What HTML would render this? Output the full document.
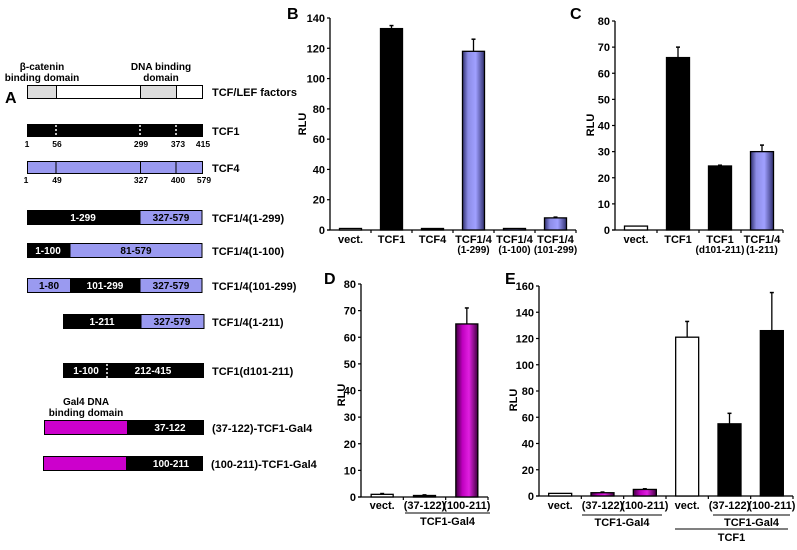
<!DOCTYPE html>
<html><head><meta charset="utf-8"><style>
html,body{margin:0;padding:0;background:#fff;}
svg text{font-family:"Liberation Sans",Arial,sans-serif;font-weight:bold;fill:#000;}
</style></head><body>
<svg id="fig" width="797" height="545" viewBox="0 0 797 545" xmlns="http://www.w3.org/2000/svg">
<defs>
<linearGradient id="gBlue" x1="0" x2="1"><stop offset="0" stop-color="#303070"/><stop offset="0.25" stop-color="#8c8ce6"/><stop offset="0.6" stop-color="#a0a0ff"/><stop offset="1" stop-color="#303070"/></linearGradient>
<linearGradient id="gMag" x1="0" x2="1"><stop offset="0" stop-color="#400040"/><stop offset="0.3" stop-color="#c000c0"/><stop offset="0.6" stop-color="#e020e0"/><stop offset="1" stop-color="#400040"/></linearGradient>
</defs>
<g font-size="10">
<text x="5" y="103" font-size="16">A</text>
<text x="42" y="70" text-anchor="middle">β-catenin</text>
<text x="42" y="81" text-anchor="middle">binding domain</text>
<text x="161" y="70" text-anchor="middle">DNA binding</text>
<text x="161" y="81" text-anchor="middle">domain</text>
<g stroke="#000" stroke-width="1">
<rect x="27.5" y="85.5" width="175" height="13" fill="#fff"/>
<rect x="27.5" y="85.5" width="29" height="13" fill="#ddd"/>
<rect x="140.5" y="85.5" width="36" height="13" fill="#ddd"/>
</g>
<text x="212" y="96" font-size="11">TCF/LEF factors</text>
<rect x="27" y="124" width="176" height="13" fill="#000"/>
<g stroke="#fff" stroke-width="1.5" stroke-dasharray="2,2"><line x1="56" y1="125" x2="56" y2="137"/><line x1="140" y1="125" x2="140" y2="137"/><line x1="176" y1="125" x2="176" y2="137"/></g>
<text x="212" y="135" font-size="11">TCF1</text>
<g font-size="8.5" text-anchor="middle"><text x="27" y="147">1</text><text x="57" y="147">56</text><text x="141" y="147">299</text><text x="178" y="147">373</text><text x="203" y="147">415</text></g>
<g stroke="#000"><rect x="27.5" y="161.5" width="175" height="12" fill="#9a9af0"/><line x1="56" y1="161" x2="56" y2="174"/><line x1="140.5" y1="161" x2="140.5" y2="174"/><line x1="176" y1="161" x2="176" y2="174"/></g>
<text x="212" y="172" font-size="11">TCF4</text>
<g font-size="8.5" text-anchor="middle"><text x="26" y="183">1</text><text x="57" y="183">49</text><text x="141" y="183">327</text><text x="178" y="183">400</text><text x="204" y="183">579</text></g>
<g><rect x="27" y="210" width="113" height="15" fill="#000"/><rect x="140" y="210.5" width="62" height="14" fill="#9a9af0" stroke="#000"/>
<text x="83" y="221" style="fill:#fff" text-anchor="middle">1-299</text><text x="171" y="221" text-anchor="middle">327-579</text></g>
<text x="212" y="222" font-size="11">TCF1/4(1-299)</text>
<g><rect x="27" y="243" width="43" height="15" fill="#000"/><rect x="70" y="243.5" width="132" height="14" fill="#9a9af0" stroke="#000"/>
<text x="48" y="254" style="fill:#fff" text-anchor="middle">1-100</text><text x="136" y="254" text-anchor="middle">81-579</text></g>
<text x="212" y="255" font-size="11">TCF1/4(1-100)</text>
<g><rect x="27.5" y="278.5" width="43" height="14" fill="#9a9af0" stroke="#000"/><rect x="70" y="278" width="70" height="15" fill="#000"/><rect x="140" y="278.5" width="62" height="14" fill="#9a9af0" stroke="#000"/>
<text x="49" y="289" text-anchor="middle">1-80</text><text x="105" y="289" style="fill:#fff" text-anchor="middle">101-299</text><text x="171" y="289" text-anchor="middle">327-579</text></g>
<text x="212" y="290" font-size="11">TCF1/4(101-299)</text>
<g><rect x="63" y="314" width="78" height="15" fill="#000"/><rect x="141" y="314.5" width="63" height="14" fill="#9a9af0" stroke="#000"/>
<text x="102" y="325" style="fill:#fff" text-anchor="middle">1-211</text><text x="172" y="325" text-anchor="middle">327-579</text></g>
<text x="212" y="326" font-size="11">TCF1/4(1-211)</text>
<g><rect x="63" y="363" width="141" height="15" fill="#000"/><line x1="107" y1="364" x2="107" y2="378" stroke="#fff" stroke-width="1.5" stroke-dasharray="2,2"/>
<text x="86" y="374" style="fill:#fff" text-anchor="middle">1-100</text><text x="153" y="374" style="fill:#fff" text-anchor="middle">212-415</text></g>
<text x="212" y="375" font-size="11">TCF1(d101-211)</text>
<text x="86" y="405" text-anchor="middle">Gal4 DNA</text><text x="86" y="416" text-anchor="middle">binding domain</text>
<g><rect x="44.5" y="420.5" width="83" height="14" fill="#cc00cc" stroke="#000"/><rect x="127" y="420" width="77" height="15" fill="#000"/><text x="170" y="431" style="fill:#fff" text-anchor="middle">37-122</text></g>
<text x="212" y="432" font-size="11">(37-122)-TCF1-Gal4</text>
<g><rect x="43.5" y="456.5" width="83" height="14" fill="#cc00cc" stroke="#000"/><rect x="126" y="456" width="77" height="15" fill="#000"/><text x="171" y="467" style="fill:#fff" text-anchor="middle">100-211</text></g>
<text x="211" y="468" font-size="11">(100-211)-TCF1-Gal4</text>
</g>
<text x="287" y="19" font-size="16">B</text>
<text x="570" y="19" font-size="16">C</text>
<text x="324" y="284" font-size="16">D</text>
<text x="505" y="284" font-size="16">E</text>
<g id="charts"></g>
</svg>
<script>
// Panel B data
const bCats1 = ["vect.","TCF1","TCF4","TCF1/4","TCF1/4","TCF1/4"];
const bCats2 = ["","","","(1-299)","(1-100)","(101-299)"];
const bVals = [1, 133, 0.5, 118, 1, 8];
const bErrs = [0, 2, 0, 8, 0, 0.5];
const bFills = ["w","k","k","b","b","b"];
const bTicks = [0,20,40,60,80,100,120,140];
// Panel C data
const cCats1 = ["vect.","TCF1","TCF1","TCF1/4"];
const cCats2 = ["","","(d101-211)","(1-211)"];
const cVals = [1.5, 66, 24.5, 30];
const cErrs = [0, 4, 0.3, 2.5];
const cFills = ["w","k","k","b"];
const cTicks = [0,10,20,30,40,50,60,70,80];
// Panel D data
const dCats1 = ["vect.","(37-122)","(100-211)"];
const dVals = [1, 0.5, 65];
const dErrs = [0.3, 0.3, 6];
const dFills = ["w","k","m"];
const dTicks = [0,10,20,30,40,50,60,70,80];
// Panel E data
const eCats1 = ["vect.","(37-122)","(100-211)","vect.","(37-122)","(100-211)"];
const eVals = [2, 2.5, 5, 121, 55, 126];
const eErrs = [0, 0.5, 0.5, 12, 8, 29];
const eFills = ["w","m","m","w","k","k"];
const eTicks = [0,20,40,60,80,100,120,140,160];

const NS="http://www.w3.org/2000/svg";
const root=document.getElementById('charts');
function el(tag,attrs,parent,txt){const e=document.createElementNS(NS,tag);for(const k in attrs)e.setAttribute(k,attrs[k]);if(txt!==undefined)e.textContent=txt;(parent||root).appendChild(e);return e;}
const fillMap={w:"#fff",k:"#000",b:"url(#gBlue)",m:"url(#gMag)"};

function chart(id,cfg,cats1,cats2,vals,errs,fills,ticks){
  const g=el('g',{});
  
  
  const max=ticks[ticks.length-1];
  const y=v=>cfg.y0-(v/max)*(cfg.y0-cfg.yTop);
  const n=vals.length, step=(cfg.x1-cfg.x0)/n;
  const x=i=>cfg.x0+step*(i+0.5);
  el('line',{x1:cfg.x0,y1:cfg.yTop,x2:cfg.x0,y2:cfg.y0,stroke:'#000','stroke-width':1.3},g);
  el('line',{x1:cfg.x0-3,y1:cfg.y0,x2:cfg.x1,y2:cfg.y0,stroke:'#000','stroke-width':1.3},g);
  ticks.forEach(t=>{
    el('line',{x1:cfg.x0-3,y1:y(t),x2:cfg.x0,y2:y(t),stroke:'#000','stroke-width':1.2},g);
    const tl=el('text',{x:cfg.x0-5,y:y(t)+4,'text-anchor':'end','font-size':11},g,String(t));
    
    
  });
  for(let i=1;i<=n;i++){el('line',{x1:cfg.x0+step*i,y1:cfg.y0,x2:cfg.x0+step*i,y2:cfg.y0+3,stroke:'#000','stroke-width':1.2},g);}
  const yl=el('text',{x:cfg.rluX,y:cfg.rluY,'font-size':11,'text-anchor':'middle',transform:`rotate(-90 ${cfg.rluX} ${cfg.rluY})`},g,'RLU');
  
  
  vals.forEach((v,i)=>{
    const cx=x(i), w=cfg.bw;
    if(errs[i]>0){
      el('line',{x1:cx,y1:y(v),x2:cx,y2:y(v+errs[i]),stroke:'#000','stroke-width':1.3},g);
      el('line',{x1:cx-2,y1:y(v+errs[i]),x2:cx+2,y2:y(v+errs[i]),stroke:'#000','stroke-width':1.5},g);
    }
    const h=Math.max(cfg.y0-y(v),1.5);
    const r=el('rect',{x:cx-w/2,y:cfg.y0-h,width:w,height:h,fill:fillMap[fills[i]],stroke:'#000','stroke-width':1.3},g);
    
    
    const l1=el('text',{x:cx,y:cfg.ly,'font-size':11,'text-anchor':'middle'},g,cats1[i]);
    
    
    if(cats2&&cats2[i]){
      const l2=el('text',{x:cx,y:cfg.ly+10,'font-size':10,'text-anchor':'middle'},g,cats2[i]);
      
      
    }
  });
  return {g,x,step};
}
chart('chart-b',{x0:330,x1:576,y0:230,yTop:18,bw:22,rluX:306,rluY:124,ly:243},bCats1,bCats2,bVals,bErrs,bFills,bTicks);
chart('chart-c',{x0:615,x1:783,y0:230,yTop:21,bw:23,rluX:594,rluY:125,ly:243},cCats1,cCats2,cVals,cErrs,cFills,cTicks);
const D=chart('chart-d',{x0:361,x1:488,y0:497,yTop:284,bw:22,rluX:345,rluY:395,ly:509},dCats1,null,dVals,dErrs,dFills,dTicks);
const E=chart('chart-e',{x0:539,x1:793,y0:496,yTop:286,bw:23,rluX:517,rluY:400,ly:509},eCats1,null,eVals,eErrs,eFills,eTicks);
function group(g,xa,xb,ly,label,ty){
  el('line',{x1:xa,y1:ly,x2:xb,y2:ly,stroke:'#000','stroke-width':1},g);
  const t=el('text',{x:(xa+xb)/2,y:ty,'font-size':11,'text-anchor':'middle'},g,label);
  
  
}
group(D.g,405,490,513,'TCF1-Gal4',525);
group(E.g,582,662,515,'TCF1-Gal4',526);
group(E.g,713,790,515,'TCF1-Gal4',526);
group(E.g,675,788,529,'TCF1',541);
</script>
</body></html>
